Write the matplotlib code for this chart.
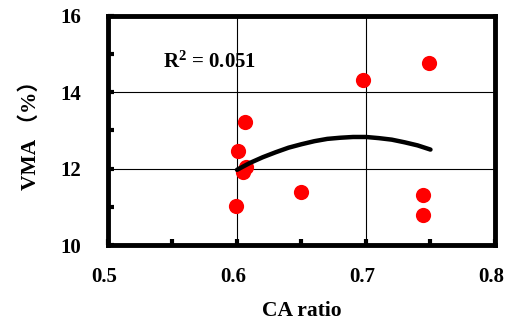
import numpy as np
import matplotlib
matplotlib.use("Agg")
import matplotlib.pyplot as plt
from matplotlib.ticker import MultipleLocator
from matplotlib.transforms import ScaledTranslation

plt.rcParams['font.family'] = ['Liberation Serif', 'Noto Sans CJK SC']
plt.rcParams['font.weight'] = 'bold'
plt.rcParams['mathtext.fontset'] = 'custom'
plt.rcParams['mathtext.rm'] = 'Liberation Serif:bold'
plt.rcParams['mathtext.it'] = 'Liberation Serif:bold'
plt.rcParams['mathtext.bf'] = 'Liberation Serif:bold'

# ==========================
# data
# ==========================
ca_ratio = [0.749, 0.698, 0.606, 0.601, 0.607, 0.605, 0.599, 0.650, 0.744, 0.744]
vma = [14.77, 14.32, 13.23, 12.47, 12.05, 11.92, 11.03, 11.39, 11.31, 10.79]

# trend line (quadratic)
trend_x = [0.600, 0.610, 0.620, 0.630, 0.640, 0.650, 0.660, 0.670, 0.680,
           0.690, 0.700, 0.710, 0.720, 0.730, 0.740, 0.750]
trend_y = [11.97, 12.15, 12.30, 12.43, 12.55, 12.64, 12.72, 12.78, 12.81,
           12.83, 12.83, 12.80, 12.76, 12.69, 12.61, 12.50]

xticks = [0.5, 0.6, 0.7, 0.8]
xtick_labels = ['0.5', '0.6', '0.7', '0.8']
yticks = [10, 12, 14, 16]
ytick_labels = ['10', '12', '14', '16']

fig = plt.figure(figsize=(5.06, 3.25), dpi=100)
ax = fig.add_axes([0.2134, 0.246, 0.7648, 0.705])

ax.grid(True, which='major', color='black', linewidth=0.8)
ax.set_axisbelow(True)

ax.scatter(ca_ratio, vma, s=120, color='#ff0000', zorder=3, linewidths=0)
ax.plot(trend_x, trend_y, color='black', linewidth=3.2, zorder=4,
        solid_capstyle='round')

ax.set_xlim(0.5, 0.8)
ax.set_ylim(10, 16)
ax.xaxis.set_minor_locator(MultipleLocator(0.05))
ax.yaxis.set_minor_locator(MultipleLocator(1))
ax.set_xticks(xticks)
ax.set_xticklabels(xtick_labels, fontsize=15, fontweight='bold')
ax.set_yticks(yticks)
ax.set_yticklabels(ytick_labels, fontsize=15, fontweight='bold')

ax.tick_params(which='both', direction='in', width=3, length=4)
ax.tick_params(axis='x', which='both', pad=16)
ax.tick_params(axis='y', which='both', pad=19)

# x tick labels sit a little left of their ticks in the original
shift = ScaledTranslation(-0.04, 0, fig.dpi_scale_trans)
for lab in ax.get_xticklabels():
    lab.set_transform(lab.get_transform() + shift)

for spine in ax.spines.values():
    spine.set_linewidth(3.5)

ax.set_xlabel('CA ratio', fontsize=15.5, fontweight='bold', labelpad=10)
ax.set_ylabel('VMA （%）', fontsize=15.5, fontweight='bold', labelpad=14)

ax.text(0.5426, 14.8, r'R$^{2}$ = 0.051', fontsize=15, fontweight='bold',
        va='center', ha='left')

fig.savefig('out.png', dpi=100)
